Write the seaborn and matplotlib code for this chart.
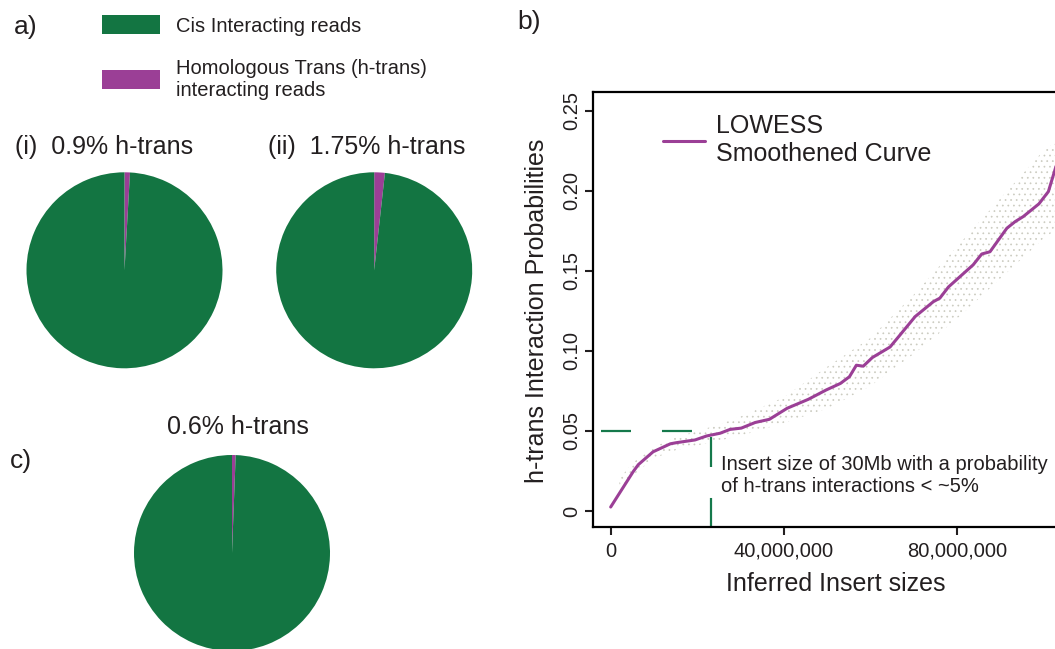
import numpy as np
import matplotlib
matplotlib.use("Agg")
import matplotlib.pyplot as plt
import seaborn as sns
from matplotlib.patches import Patch

# ---------------- data ----------------
pie_titles = ["(i)  0.9% h-trans", "(ii)  1.75% h-trans", "0.6% h-trans"]
htrans_pct = [0.9, 1.75, 0.6]
legend_labels = ["Cis Interacting reads", "Homologous Trans (h-trans)\ninteracting reads"]

# LOWESS curve (insert size in Mb, probability)
insert_mb = [0, 5.2, 6.4, 9.8, 13.8, 15.2, 19.5, 22.2, 25.3, 27.6, 30.2, 33.4, 36.7,
             40.8, 45.7, 49.8, 53.1, 55.2, 56.8, 58.4, 60.5, 64.6, 66.9, 70.4, 74.6,
             76.1, 78.1, 83.8, 85.8, 87.7, 91.6, 93.5, 95.4, 99.0, 101.2, 102.7, 104.0]
lowess_prob = [0.0025, 0.0246, 0.029, 0.037, 0.042, 0.0427, 0.0444, 0.0469, 0.0486, 0.051,
               0.0518, 0.0553, 0.0573, 0.0642, 0.0698, 0.0756, 0.0797, 0.0839, 0.0911, 0.0905,
               0.0959, 0.1025, 0.110, 0.1215, 0.1308, 0.133, 0.140, 0.1538, 0.1606, 0.162,
               0.1767, 0.1808, 0.184, 0.1919, 0.1996, 0.213, 0.225]

# spread of the raw per-insert probabilities (read as a band)
band_mb = [2, 5, 10, 15, 20, 25, 30, 40, 50, 60, 70, 80, 90, 100, 105]
band_low = [0.013, 0.022, 0.033, 0.038, 0.041, 0.044, 0.047, 0.055, 0.064, 0.078, 0.098,
            0.120, 0.145, 0.170, 0.180]
band_high = [0.020, 0.030, 0.040, 0.046, 0.050, 0.054, 0.059, 0.071, 0.090, 0.108, 0.135,
             0.165, 0.195, 0.225, 0.235]

x_ticks = [0, 40_000_000, 80_000_000]
x_ticklabels = ["0", "40,000,000", "80,000,000"]
y_ticks = [0, 0.05, 0.10, 0.15, 0.20, 0.25]
y_ticklabels = ["0", "0.05", "0.10", "0.15", "0.20", "0.25"]

threshold_insert = 23_200_000
threshold_prob = 0.05
guide_start = -2_240_000
guide_top = 0.0465

# ---------------- style ----------------
GREEN = "#137542"
PURPLE = "#9B3F96"
DASH_GREEN = "#15794B"
TXT = "#231F20"
sns.set_theme(style="ticks")
plt.rcParams["font.family"] = ["Liberation Sans", "DejaVu Sans"]
plt.rcParams["text.color"] = TXT
plt.rcParams["axes.labelcolor"] = TXT
plt.rcParams["xtick.color"] = TXT
plt.rcParams["ytick.color"] = TXT
plt.rcParams["lines.scale_dashes"] = False
plt.rcParams["hatch.linewidth"] = 0.5

W, H = 1055, 649
fig = plt.figure(figsize=(W / 100, H / 100), dpi=100)


def fbox(l, t, r, b):
    return [l / W, 1 - b / H, (r - l) / W, (b - t) / H]


def fx(x):
    return x / W


def fy(y):
    return 1 - y / H


# ---------------- pies ----------------
pie_centers = [(124.5, 270.3), (374.2, 270.3), (232, 553)]
R = 98
for pct, (cx, cy) in zip(htrans_pct, pie_centers):
    axp = fig.add_axes(fbox(cx - R, cy - R, cx + R, cy + R))
    axp.pie([pct, 100 - pct], colors=[PURPLE, GREEN], startangle=90,
            counterclock=False, wedgeprops=dict(linewidth=0))
    axp.set_xlim(-1, 1)
    axp.set_ylim(-1, 1)
    axp.set_aspect("equal")
    axp.axis("off")

fig.text(fx(15), fy(147), pie_titles[0], fontsize=18, va="center", ha="left")
fig.text(fx(268), fy(147), pie_titles[1], fontsize=18, va="center", ha="left")
fig.text(fx(237.5), fy(427), pie_titles[2], fontsize=18, va="center", ha="center")

fig.text(fx(14), fy(27), "a)", fontsize=19, va="center", ha="left")
fig.text(fx(517), fy(22), "b)", fontsize=19, va="center", ha="left")
fig.text(fx(10), fy(461), "c)", fontsize=19, va="center", ha="left")

fig.legend(handles=[Patch(facecolor=GREEN, edgecolor="none"),
                    Patch(facecolor=PURPLE, edgecolor="none")],
           labels=legend_labels, loc="upper left",
           bbox_to_anchor=(fx(102), fy(15)), frameon=False, fontsize=14.5,
           handlelength=2.9, handleheight=1.1, handletextpad=0.75,
           labelspacing=1.15, borderpad=0, borderaxespad=0)

# ---------------- panel b ----------------
ax = fig.add_axes(fbox(593.3, 91.7, 1129.7, 526.7))
bx = np.array(band_mb) * 1e6
ax.fill_between(bx, band_low, band_high, facecolor="none", edgecolor="#cbcbc0",
                hatch="...", linewidth=0, zorder=1)
sns.lineplot(x=np.array(insert_mb) * 1e6, y=lowess_prob, color=PURPLE, linewidth=2.2,
             ax=ax, label="LOWESS\nSmoothened Curve", zorder=3)

ax.plot([guide_start, threshold_insert], [threshold_prob, threshold_prob],
        color=DASH_GREEN, lw=1.6, dashes=(21.6, 22.3), zorder=2)
ax.plot([threshold_insert, threshold_insert], [guide_top, -0.0098],
        color=DASH_GREEN, lw=1.6, dashes=(21.6, 22.3), zorder=2, clip_on=False)

ax.set_xlim(-4_020_000, 120_000_000)
ax.set_ylim(-0.0098, 0.262)
ax.set_xticks(x_ticks)
ax.set_xticklabels(x_ticklabels)
ax.set_yticks(y_ticks)
ax.set_yticklabels(y_ticklabels, rotation=90, va="center")
ax.tick_params(direction="out", length=6, width=1.5, labelsize=14.5, pad=5)
ax.tick_params(axis="y", pad=3)
for s in ax.spines.values():
    s.set_linewidth(1.6)
    s.set_color("black")

ax.set_xlabel("Inferred Insert sizes", fontsize=18)
ax.set_ylabel("h-trans Interaction Probabilities", fontsize=18)
ax.xaxis.set_label_coords((836 - 593.3) / 536.4, (526.7 - 572) / 435)
ax.yaxis.set_label_coords((549 - 593.3) / 536.4, (526.7 - 311) / 435)

ax.legend(loc="center left", bbox_to_anchor=(fx(663), fy(140)),
          bbox_transform=fig.transFigure, frameon=False, fontsize=18,
          handlelength=1.67, handletextpad=0.46, borderpad=0, borderaxespad=0)

fig.text(fx(721), fy(476), "Insert size of 30Mb with a probability\nof h-trans interactions < ~5%",
         fontsize=14.5, va="center", ha="left", linespacing=1.2)

fig.savefig("out.png", dpi=100)
